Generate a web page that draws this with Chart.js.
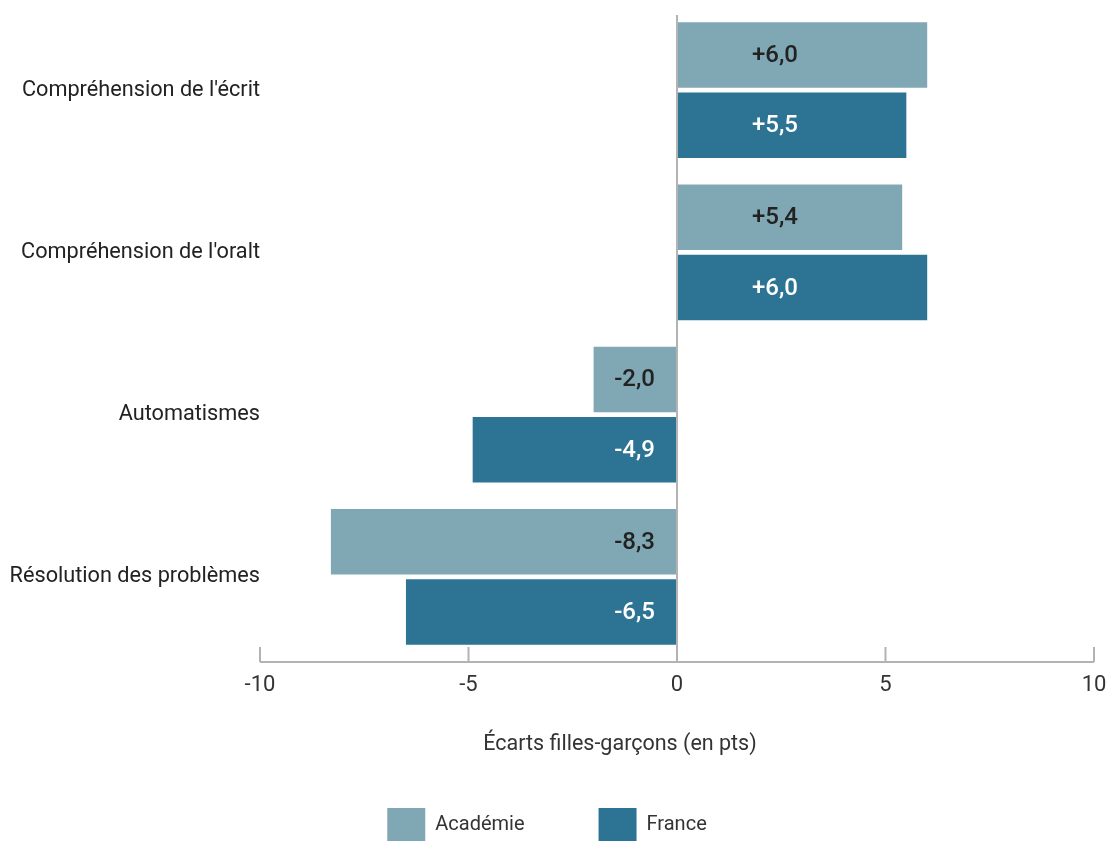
<!DOCTYPE html>
<html lang="fr">
<head>
<meta charset="utf-8">
<title>Écarts filles-garçons</title>
<script src="https://cdn.jsdelivr.net/npm/chart.js@4.4.1/dist/chart.umd.min.js"></script>
<style>
  html, body { margin: 0; padding: 0; background: #fff; }
  #wrap { width: 1108px; height: 842px; position: relative; }
</style>
</head>
<body>
<div id="wrap"><canvas id="chart"></canvas></div>
<script>
// --- Data ---
const categories = [
  "Compréhension de l'écrit",
  "Compréhension de l'oralt",
  "Automatismes",
  "Résolution des problèmes"
];
const academie = [6.0, 5.4, -2.0, -8.3];
const france = [5.5, 6.0, -4.9, -6.5];
const xTicks = [-10, -5, 0, 5, 10];
const xTitle = 'Écarts filles-garçons (en pts)';

const FONT = 'Roboto, "Liberation Sans", sans-serif';
const AXIS_GREY = '#b3b3b3';

const fmt = (v) => (v > 0 ? '+' : '') + v.toFixed(1).replace('.', ',');

// value labels near the zero line
const barLabels = {
  id: 'barLabels',
  afterDatasetsDraw(chart) {
    const ctx = chart.ctx;
    ctx.save();
    ctx.font = `500 24px ${FONT}`;
    ctx.textBaseline = 'middle';
    chart.data.datasets.forEach((ds, di) => {
      const meta = chart.getDatasetMeta(di);
      meta.data.forEach((bar, i) => {
        const v = ds.data[i];
        ctx.fillStyle = ds.labelColor;
        if (v >= 0) {
          ctx.textAlign = 'center';
          ctx.fillText(fmt(v), bar.base + 98, bar.y + 1);
        } else {
          ctx.textAlign = 'right';
          ctx.fillText(fmt(v), bar.base - 22, bar.y + 1);
        }
      });
    });
    ctx.restore();
  }
};

// bottom axis line with upward ticks, the zero line and the axis title
const axisLines = {
  id: 'axisLines',
  afterDatasetsDraw(chart) {
    const { ctx, chartArea } = chart;
    const x = chart.scales.x;
    const yAxis = chartArea.bottom + 4;
    ctx.save();
    ctx.strokeStyle = AXIS_GREY;
    ctx.lineWidth = 2;
    ctx.beginPath();
    ctx.moveTo(x.getPixelForValue(xTicks[0]), yAxis);
    ctx.lineTo(x.getPixelForValue(xTicks[xTicks.length - 1]), yAxis);
    xTicks.forEach(t => {
      const px = x.getPixelForValue(t);
      ctx.moveTo(px, yAxis);
      ctx.lineTo(px, t === 0 ? chartArea.top + 6 : yAxis - 15);
    });
    ctx.stroke();

    // axis title (sits left of the plot centre in the original)
    ctx.fillStyle = '#333333';
    ctx.font = `21.5px ${FONT}`;
    ctx.textAlign = 'center';
    ctx.textBaseline = 'middle';
    ctx.fillText(xTitle, (chartArea.left + chartArea.right) / 2 - 57, chartArea.bottom + 87);
    ctx.restore();
  }
};

new Chart(document.getElementById('chart'), {
  type: 'bar',
  data: {
    labels: categories,
    datasets: [
      {
        label: 'Académie',
        data: academie,
        backgroundColor: '#80a7b4',
        labelColor: '#222222',
        categoryPercentage: 0.866,
        barPercentage: 0.929
      },
      {
        label: 'France',
        data: france,
        backgroundColor: '#2c7394',
        labelColor: '#ffffff',
        categoryPercentage: 0.866,
        barPercentage: 0.929
      }
    ]
  },
  options: {
    indexAxis: 'y',
    responsive: true,
    maintainAspectRatio: false,
    animation: false,
    layout: { padding: { top: 9, right: 14, bottom: 0, left: 0 } },
    scales: {
      x: {
        min: -10,
        max: 10,
        afterBuildTicks: (scale) => { scale.ticks = xTicks.map(v => ({ value: v })); },
        grid: { display: false, drawTicks: false },
        border: { display: false },
        ticks: {
          color: '#333333',
          font: { family: FONT, size: 22 },
          padding: 14,
          callback: (v) => String(v)
        },
        afterFit: (scale) => {
          scale.height = 76;
          scale.paddingLeft = 0;
          scale.paddingRight = 0;
        }
      },
      y: {
        grid: { display: false, drawTicks: false },
        border: { display: false },
        ticks: {
          color: '#222222',
          font: { family: FONT, size: 21.7 },
          padding: 0
        },
        afterFit: (scale) => {
          scale.width = 260;
          scale.paddingTop = 0;
          scale.paddingBottom = 0;
        }
      }
    },
    plugins: {
      legend: {
        position: 'bottom',
        maxHeight: 108,
        labels: {
          boxWidth: 38,
          boxHeight: 33,
          color: '#333333',
          font: { family: FONT, size: 20 },
          padding: 74
        }
      },
      tooltip: { enabled: false }
    }
  },
  plugins: [barLabels, axisLines]
});
</script>
</body>
</html>
